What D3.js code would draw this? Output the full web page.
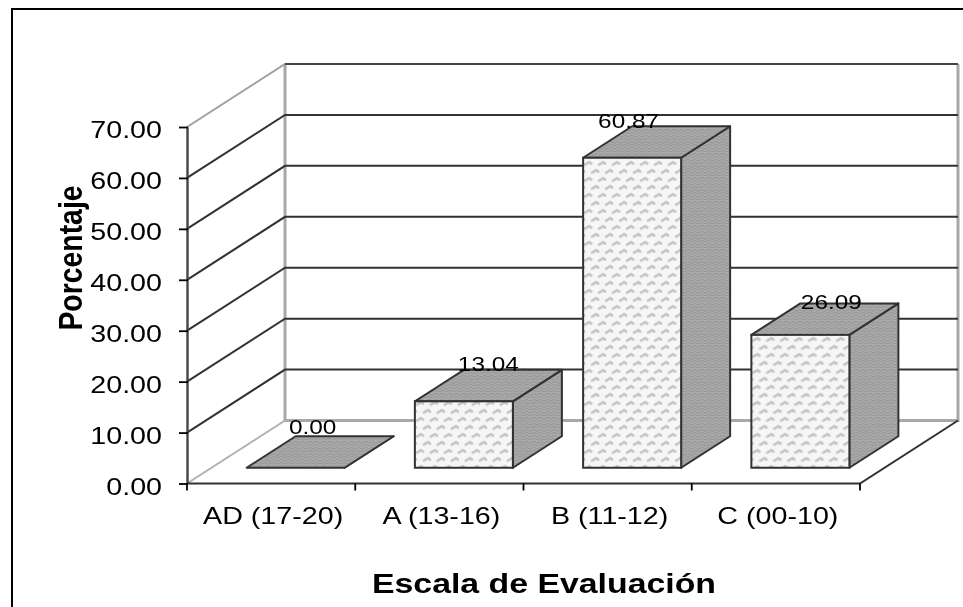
<!DOCTYPE html>
<meta charset="utf-8">
<style>
body { margin: 0; background: #fff; overflow: hidden; }
text { font-family: "Liberation Sans", Arial, sans-serif; fill: #000; }
.tick-label { font-size: 24.5px; }
.value-label { font-size: 21px; }
.axis-title { font-size: 27.5px; font-weight: bold; }
.y-title { font-size: 33px; font-weight: bold; }
</style>
<svg width="963" height="607"></svg>
<script src="https://cdn.jsdelivr.net/npm/d3@7/dist/d3.min.js"></script>
<script>

var categories = ["AD (17-20)", "A (13-16)", "B (11-12)", "C (00-10)"];
var values = [0.00, 13.04, 60.87, 26.09];
var yTicks = [0, 10, 20, 30, 40, 50, 60, 70];
var xTitle = "Escala de Evaluación";
var yTitle = "Porcentaje";

// the data labels were placed by hand in the original: nudge from the back top edge of each bar
var labelNudge = [[66, -2], [73.5, 1], [45.5, 2], [80, 6]];

var svg = d3.select("svg");

var x = d3.scaleBand().domain(categories).range([187, 860]),
    y = d3.scaleLinear().domain([0, 70]).range([483.5, 127]);

// how far the back wall sits from the front plane, and how deep the bars are
var depth = {x: 98, y: -63},
    barInset = 0.25,
    barDepth = 0.5,
    barWidth = 98;

var x0 = x.range()[0], x1 = x.range()[1];
var dx = depth.x * barDepth, dy = depth.y * barDepth;

var defs = svg.append("defs");

var front = defs.append("pattern")
    .attr("id", "zigzag")
    .attr("patternUnits", "userSpaceOnUse")
    .attr("width", 14)
    .attr("height", 16);
front.append("rect").attr("width", 14).attr("height", 16).attr("fill", "#f6f6f6");
front.append("path")
    .attr("d", "M1 5L6 2L9 4M8 13L13 10L16 12M-6 13L-1 10L2 12")
    .attr("fill", "none")
    .attr("stroke", "#c2c2c2")
    .attr("stroke-width", 2.6);

var dark = defs.append("pattern")
    .attr("id", "darkweave")
    .attr("patternUnits", "userSpaceOnUse")
    .attr("width", 7)
    .attr("height", 6);
dark.append("rect").attr("width", 7).attr("height", 6).attr("fill", "#aeaeae");
dark.append("path")
    .attr("d", "M0 1L3 3L7 1M0 4L3 6L7 4")
    .attr("fill", "none")
    .attr("stroke", "#949494")
    .attr("stroke-width", 1.2);

defs.append("filter").attr("id", "soft")
  .append("feGaussianBlur").attr("stdDeviation", 0.5);

// chart frame, runs off the page on the right and bottom
svg.append("rect")
    .attr("x", 12)
    .attr("y", 9)
    .attr("width", 1000)
    .attr("height", 700)
    .attr("fill", "none")
    .attr("stroke", "#000")
    .attr("stroke-width", 2);

var g = svg.append("g").attr("filter", "url(#soft)");

// stretch a text along its length, the original is a resized picture
function stretch(sel, factor) {
  sel.each(function() {
    d3.select(this)
        .attr("textLength", this.getComputedTextLength() * factor)
        .attr("lengthAdjust", "spacingAndGlyphs");
  });
}

// walls
g.append("path")
    .attr("d", d3.line()([
      [x0 + depth.x, y(70) + depth.y],
      [x0 + depth.x, y(0) + depth.y],
      [x1 + depth.x, y(0) + depth.y],
      [x1 + depth.x, y(70) + depth.y]
    ]))
    .attr("fill", "none")
    .attr("stroke", "#a8a8a8")
    .attr("stroke-width", 3);

// gridlines along the side wall and back wall
g.selectAll(".grid")
    .data(yTicks.slice(1))
    .enter().append("path")
    .attr("class", "grid")
    .attr("d", function(d) {
      return d3.line()([
        [x0, y(d)],
        [x0 + depth.x, y(d) + depth.y],
        [x1 + depth.x, y(d) + depth.y]
      ]);
    })
    .attr("fill", "none")
    .attr("stroke", function(d) { return d === 70 ? "#a0a0a0" : "#333"; })
    .attr("stroke-width", 2);

// top edge of the back wall is darker than the side of it
g.append("path")
    .attr("d", d3.line()([
      [x0 + depth.x, y(70) + depth.y],
      [x1 + depth.x, y(70) + depth.y]
    ]))
    .attr("stroke", "#444")
    .attr("stroke-width", 2);

// floor
g.append("path")
    .attr("d", d3.line()([
      [x0, y(0)],
      [x0 + depth.x, y(0) + depth.y]
    ]))
    .attr("stroke", "#b0b0b0")
    .attr("stroke-width", 2);

g.append("path")
    .attr("d", d3.line()([
      [x0, y(0)],
      [x1, y(0)],
      [x1 + depth.x, y(0) + depth.y]
    ]))
    .attr("fill", "none")
    .attr("stroke", "#333")
    .attr("stroke-width", 2);

// axes
var yAxis = g.append("g")
    .attr("transform", "translate(" + x0 + ",0)")
    .call(d3.axisLeft(y).tickValues(yTicks).tickSize(8).tickSizeOuter(0).tickFormat(d3.format(".2f")));
yAxis.attr("font-family", null).attr("font-size", null);
yAxis.select(".domain").attr("stroke", "#444").attr("stroke-width", 2.4);
yAxis.selectAll(".tick line").attr("x2", 1).attr("x1", -8).attr("stroke", "#000").attr("stroke-width", 1.8);
yAxis.selectAll(".tick text")
    .attr("class", "tick-label")
    .attr("x", -25)
    .attr("dy", "0.44em")
    .call(stretch, 1.17);

var xBoundaries = categories.map(function(c) { return x(c); }).concat([x1]);
g.selectAll(".xtick")
    .data(xBoundaries)
    .enter().append("line")
    .attr("class", "xtick")
    .attr("x1", function(d) { return d; })
    .attr("x2", function(d) { return d; })
    .attr("y1", y(0))
    .attr("y2", y(0) + 7)
    .attr("stroke", "#000")
    .attr("stroke-width", 1.8);

g.selectAll(".xlabel")
    .data(categories)
    .enter().append("text")
    .attr("class", "tick-label")
    .attr("x", function(d) { return x(d) + x.bandwidth() / 2 + 2; })
    .attr("y", 524)
    .attr("text-anchor", "middle")
    .text(function(d) { return d; })
    .call(stretch, 1.17);

// bars, drawn as three faces
var bars = g.selectAll(".bar")
    .data(categories.map(function(c, i) { return {cat: c, val: values[i], nudge: labelNudge[i]}; }))
    .enter().append("g")
    .attr("class", "bar")
    .attr("transform", function(d) {
      var left = x(d.cat) + (x.bandwidth() - barWidth) / 2 + depth.x * barInset;
      return "translate(" + left + "," + (depth.y * barInset) + ")";
    });

bars.append("path")
    .attr("d", function(d) {
      return d3.line()([
        [barWidth, y(d.val)],
        [barWidth + dx, y(d.val) + dy],
        [barWidth + dx, y(0) + dy],
        [barWidth, y(0)]
      ]) + "Z";
    })
    .attr("fill", "url(#darkweave)")
    .attr("stroke", "#333")
    .attr("stroke-width", 2)
    .attr("stroke-linejoin", "round");

bars.append("path")
    .attr("d", function(d) {
      return d3.line()([
        [0, y(d.val)],
        [dx, y(d.val) + dy],
        [barWidth + dx, y(d.val) + dy],
        [barWidth, y(d.val)]
      ]) + "Z";
    })
    .attr("fill", "url(#darkweave)")
    .attr("stroke", "#333")
    .attr("stroke-width", 2)
    .attr("stroke-linejoin", "round");

bars.filter(function(d) { return d.val > 0; }).append("rect")
    .attr("x", 0)
    .attr("y", function(d) { return y(d.val); })
    .attr("width", barWidth)
    .attr("height", function(d) { return y(0) - y(d.val); })
    .attr("fill", "url(#zigzag)")
    .attr("stroke", "#333")
    .attr("stroke-width", 2);

bars.append("text")
    .attr("class", "value-label")
    .attr("x", function(d) { return d.nudge[0]; })
    .attr("y", function(d) { return y(d.val) + dy + d.nudge[1]; })
    .attr("text-anchor", "middle")
    .text(function(d) { return d3.format(".2f")(d.val); })
    .call(stretch, 1.16);

// axis titles
g.append("text")
    .attr("class", "axis-title")
    .attr("x", 544)
    .attr("y", 593)
    .attr("text-anchor", "middle")
    .text(xTitle)
    .call(stretch, 1.23);

g.append("text")
    .attr("class", "y-title")
    .attr("transform", "translate(81.5,258) rotate(-90)")
    .attr("text-anchor", "middle")
    .text(yTitle)
    .call(stretch, 0.86);

</script>
